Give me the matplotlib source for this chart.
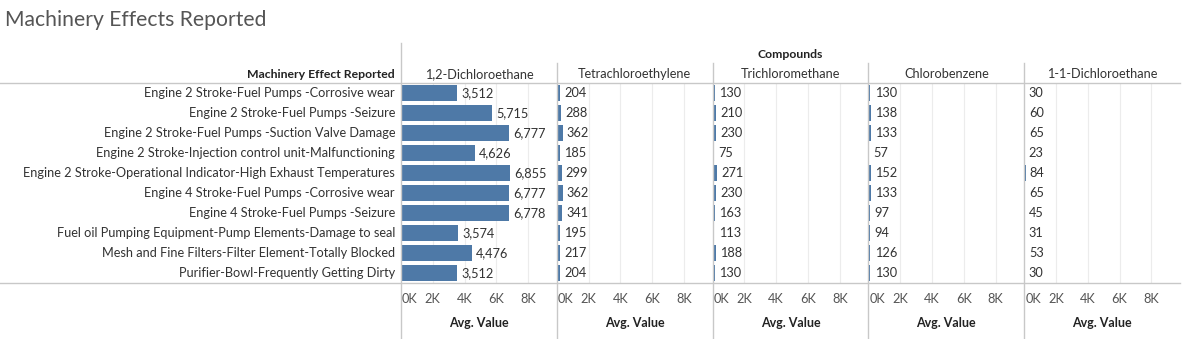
import matplotlib
matplotlib.use("Agg")
import matplotlib.pyplot as plt
from matplotlib.lines import Line2D

W, H = 1182, 339
plt.rcParams['font.family'] = ['Lato', 'DejaVu Sans']

effects = [
    "Engine 2 Stroke-Fuel Pumps -Corrosive wear",
    "Engine 2 Stroke-Fuel Pumps -Seizure",
    "Engine 2 Stroke-Fuel Pumps -Suction Valve Damage",
    "Engine 2 Stroke-Injection control unit-Malfunctioning",
    "Engine 2 Stroke-Operational Indicator-High Exhaust Temperatures",
    "Engine 4 Stroke-Fuel Pumps -Corrosive wear",
    "Engine 4 Stroke-Fuel Pumps -Seizure",
    "Fuel oil Pumping Equipment-Pump Elements-Damage to seal",
    "Mesh and Fine Filters-Filter Element-Totally Blocked",
    "Purifier-Bowl-Frequently Getting Dirty",
]
compounds = ["1,2-Dichloroethane", "Tetrachloroethylene", "Trichloromethane",
             "Chlorobenzene", "1-1-Dichloroethane"]
dichloroethane_12 = [3512, 5715, 6777, 4626, 6855, 6777, 6778, 3574, 4476, 3512]
tetrachloroethylene = [204, 288, 362, 185, 299, 362, 341, 195, 217, 204]
trichloromethane = [130, 210, 230, 75, 271, 230, 163, 113, 188, 130]
chlorobenzene = [130, 138, 133, 57, 152, 133, 97, 94, 126, 130]
dichloroethane_11 = [30, 60, 65, 23, 84, 65, 45, 31, 53, 30]
series = [dichloroethane_12, tetrachloroethylene, trichloromethane,
          chlorobenzene, dichloroethane_11]
tick_values = [0, 2000, 4000, 6000, 8000]
tick_labels = ["0K", "2K", "4K", "6K", "8K"]

fig = plt.figure(figsize=(W / 100, H / 100), dpi=100)


def fx(x):
    return x / W


def fy(y):
    return 1 - y / H


def hline(y, x0, x1, color="#c8c8c8", lw=1.0):
    fig.add_artist(Line2D([fx(x0), fx(x1)], [fy(y), fy(y)], color=color, lw=lw,
                          transform=fig.transFigure))


def vline(x, y0, y1, color="#c8c8c8", lw=1.0):
    fig.add_artist(Line2D([fx(x), fx(x)], [fy(y0), fy(y1)], color=color, lw=lw,
                          transform=fig.transFigure))


bar_color = "#4e79a7"
text_color = "#333333"
pane_left0 = 401
pane_w = 155.8
row_top, row_bot = 83, 283
xmax = 9800
fs = 9.2

# Title
fig.text(fx(5), fy(20), "Machinery Effects Reported", fontsize=15.2,
         color="#555555", ha="left", va="center")

# Headers
fig.text(fx(395), fy(74), "Machinery Effect Reported", fontsize=8.8,
         color="#222222", ha="right", va="center", fontweight="bold")
fig.text(fx(pane_left0 + pane_w * 2.5), fy(54), "Compounds", fontsize=8.8,
         color="#222222", ha="center", va="center", fontweight="bold")

for i, (name, vals) in enumerate(zip(compounds, series)):
    left = pane_left0 + i * pane_w
    ax = fig.add_axes([fx(left), fy(row_bot), pane_w / W, (row_bot - row_top) / H])
    ypos = list(range(len(effects)))
    ax.barh(ypos, vals, height=0.8, color=bar_color)
    ax.set_xlim(0, xmax)
    ax.set_ylim(len(effects) - 0.5, -0.5)
    for v in tick_values[1:]:
        ax.axvline(v, color="#ececec", lw=0.8, zorder=0)
    for y, v in zip(ypos, vals):
        ax.annotate(f"{v:,}", (v, y), xytext=(3, 0), textcoords="offset points",
                    ha="left", va="center", fontsize=fs, color=text_color)
    ax.set_xticks([])
    ax.set_yticks([])
    for s in ax.spines.values():
        s.set_visible(False)
    ax.patch.set_alpha(0)

    fig.text(fx(left + pane_w / 2), fy(74), name, fontsize=fs, color=text_color,
             ha="center", va="center")
    for v, lab in zip(tick_values, tick_labels):
        px = left + v / xmax * pane_w
        if v == 0:
            fig.text(fx(px + 1), fy(299), lab, fontsize=fs, color="#555555",
                     ha="left", va="center")
        else:
            fig.text(fx(px), fy(299), lab, fontsize=fs, color="#555555",
                     ha="center", va="center")
    fig.text(fx(left + pane_w / 2), fy(323), "Avg. Value", fontsize=9,
             color="#222222", ha="center", va="center", fontweight="bold")
    if i > 0:
        vline(left, 63, H)

for j, eff in enumerate(effects):
    fig.text(fx(395), fy(row_top + 10 + j * 20), eff, fontsize=fs,
             color=text_color, ha="right", va="center")

hline(83, 0, 1180)
hline(283, 0, 1180)
vline(pane_left0, 43, H)

fig.savefig("out.png", dpi=100, facecolor="white")
